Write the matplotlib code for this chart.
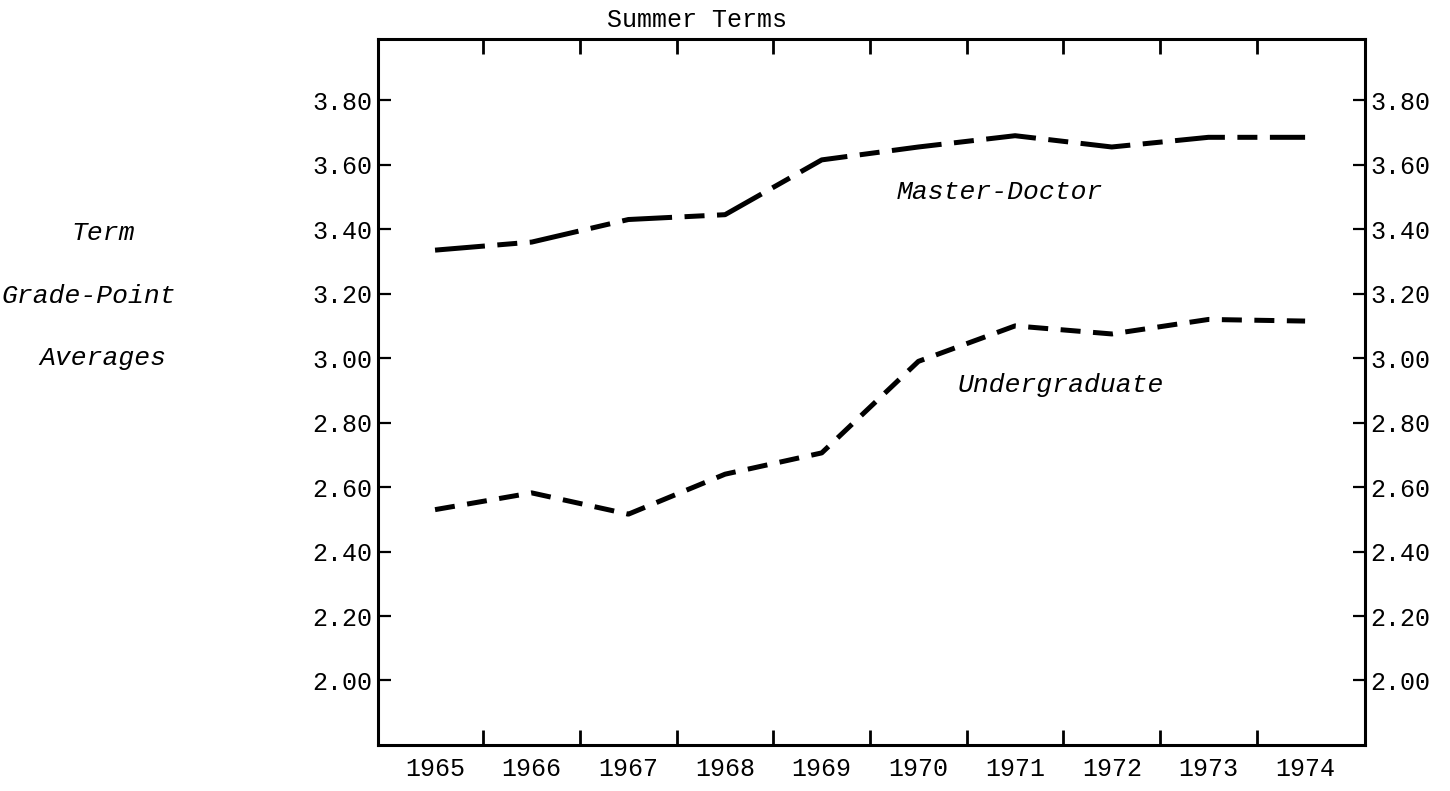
import matplotlib.pyplot as plt
import matplotlib.ticker as mticker

plt.rcParams['font.family'] = ['Liberation Mono', 'DejaVu Sans Mono']

# 数据：暑期学期平均绩点
years = [1965, 1966, 1967, 1968, 1969, 1970, 1971, 1972, 1973, 1974]
year_labels = [str(y) for y in years]
master_doctor = [3.335, 3.36, 3.43, 3.445, 3.615, 3.655, 3.69, 3.655, 3.685, 3.685]
undergraduate = [2.53, 2.582, 2.516, 2.64, 2.706, 2.99, 3.10, 3.075, 3.12, 3.115]
gpa_ticks = [2.00, 2.20, 2.40, 2.60, 2.80, 3.00, 3.20, 3.40, 3.60, 3.80]

fig = plt.figure(figsize=(14.5, 7.91), dpi=100)
ax = fig.add_axes([0.2607, 0.0582, 0.6807, 0.8925])

# 两条虚线
ax.plot(years, master_doctor, color='black', lw=3.6, dashes=(10, 2.5, 4, 2.5))
ax.plot(years, undergraduate, color='black', lw=3.6, dashes=(4, 2.5))

ax.set_xlim(1964.41, 1974.62)
ax.set_ylim(1.80, 3.99)

# x轴：年份标签在区间中间，刻度线在区间边界
ax.set_xticks(years)
ax.set_xticklabels(year_labels)
ax.set_xticks([y + 0.5 for y in years[:-1]], minor=True)
ax.tick_params(axis='x', which='major', length=0, pad=9, labelsize=18)
ax.tick_params(axis='x', which='minor', direction='in', length=11, width=2,
               top=True, bottom=True)

# y轴：左右两侧都有标签
ax.set_yticks(gpa_ticks)
ax.yaxis.set_major_formatter(mticker.FormatStrFormatter('%.2f'))
ax.tick_params(axis='y', direction='in', length=9, width=1.6, left=True, right=True,
               labelleft=True, labelright=True, pad=4, labelsize=18)

for s in ax.spines.values():
    s.set_linewidth(2.2)

# 标题和说明文字
fig.text(697 / 1450, 1 - 20 / 791, 'Summer Terms', ha='center', va='center', fontsize=18)
fig.text(103 / 1450, 1 - 233 / 791, 'Term', ha='center', va='center', fontsize=19, style='italic')
fig.text(89 / 1450, 1 - 296 / 791, 'Grade-Point', ha='center', va='center', fontsize=19, style='italic')
fig.text(103 / 1450, 1 - 358 / 791, 'Averages', ha='center', va='center', fontsize=19, style='italic')

ax.text(1970.84, 3.516, 'Master-Doctor', ha='center', va='center', fontsize=19, style='italic')
ax.text(1971.47, 2.916, 'Undergraduate', ha='center', va='center', fontsize=19, style='italic')

fig.savefig('out.png', dpi=100)
